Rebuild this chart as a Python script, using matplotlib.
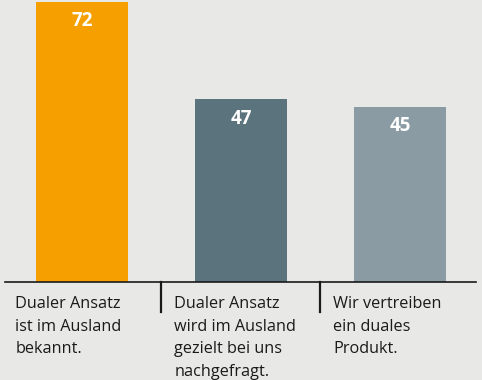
import matplotlib.pyplot as plt
from matplotlib.transforms import blended_transform_factory

values = [72, 47, 45]
labels = ["Dualer Ansatz\nist im Ausland\nbekannt.",
          "Dualer Ansatz\nwird im Ausland\ngezielt bei uns\nnachgefragt.",
          "Wir vertreiben\nein duales\nProdukt."]
colors = ["#f5a000", "#5b737c", "#8a9ba3"]
bg = "#e8e9e7"

plt.rcParams['font.family'] = ['Open Sans', 'DejaVu Sans']

fig = plt.figure(figsize=(4.82, 3.8), dpi=100, facecolor=bg)
ax = fig.add_axes([5 / 482, 98 / 380, 471 / 482, 282 / 380])
ax.set_facecolor(bg)

x = list(range(len(values)))
ax.bar(x, values, width=0.579, color=colors)
ax.set_xlim(-0.484, 2.478)
ax.set_ylim(0, 72.5)

for i, v in enumerate(values):
    ax.annotate(str(v), (i, v), xytext=(0, -14), textcoords="offset points",
                ha="center", va="center", color="white", fontsize=13.5,
                fontweight="bold")

trans = blended_transform_factory(ax.transData, ax.transAxes)
for sx in [0.5, 1.5]:
    ax.plot([sx, sx], [0, -0.107], color="#1a1a1a", lw=1.6,
            transform=trans, clip_on=False)

for i, lab in enumerate(labels):
    ax.text(i - 0.42, -0.05, lab, transform=trans, ha="left", va="top",
            fontsize=11.7, color="#1a1a1a", linespacing=1.55)

for s in ["top", "right", "left"]:
    ax.spines[s].set_visible(False)
ax.spines["bottom"].set_color("#1a1a1a")
ax.spines["bottom"].set_linewidth(1.2)
ax.set_xticks([])
ax.set_yticks([])

fig.savefig("out.png", dpi=100, facecolor=bg)
